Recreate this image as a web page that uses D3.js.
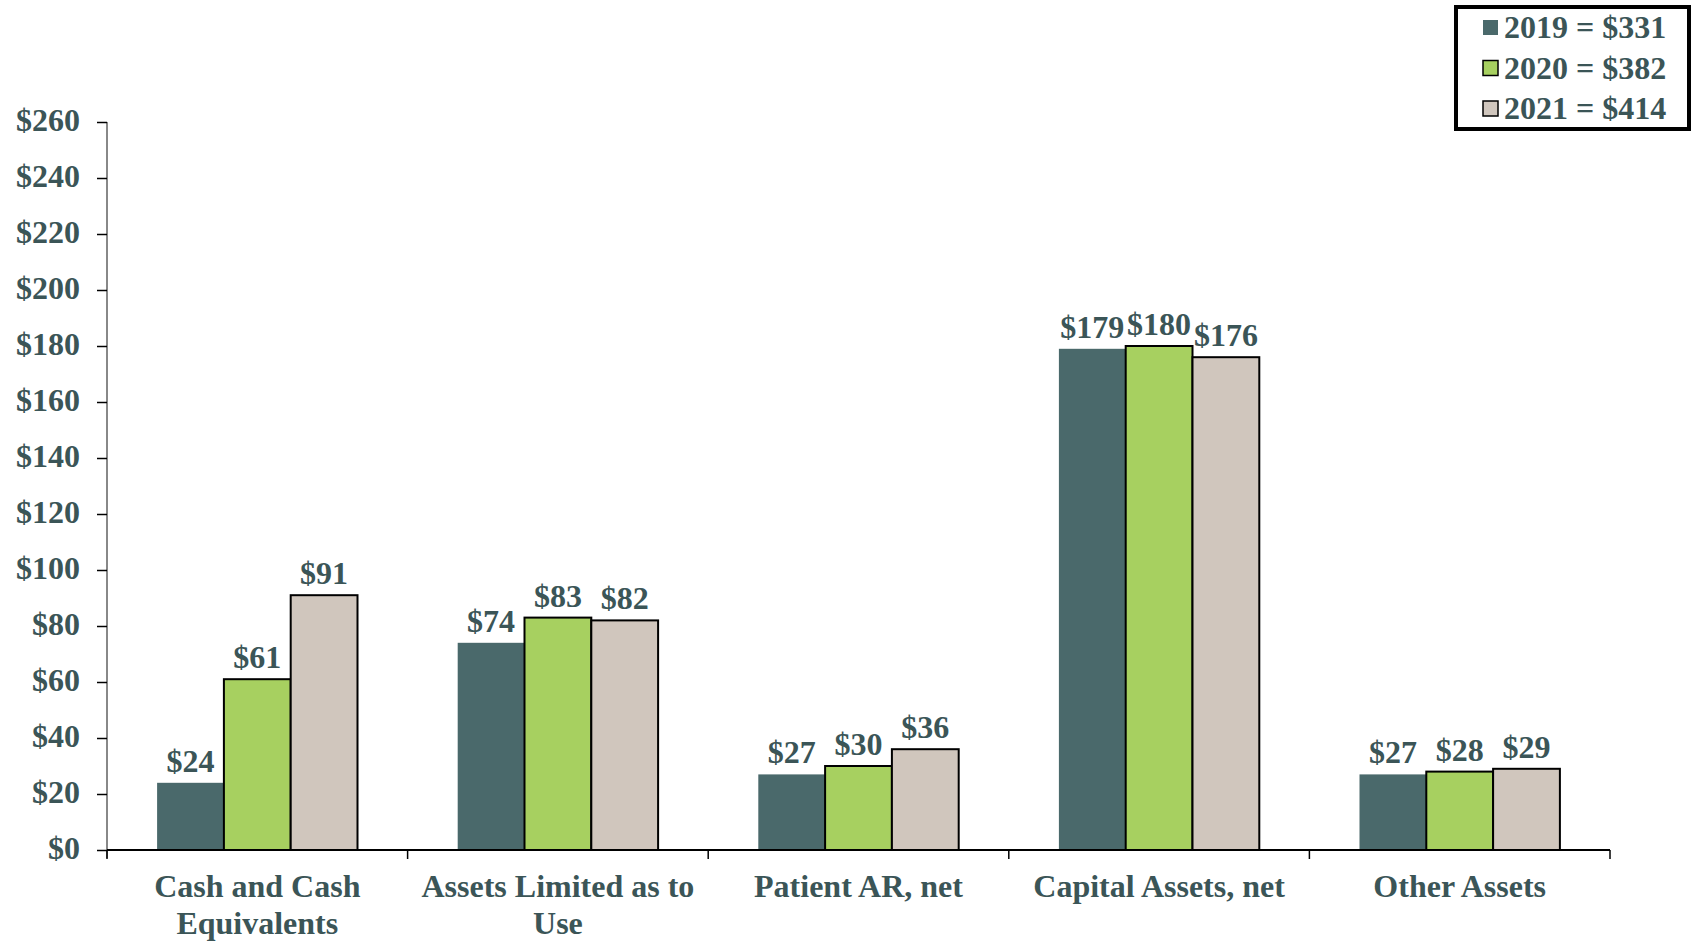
<!DOCTYPE html>
<html>
<head>
<meta charset="utf-8">
<script src="https://cdn.jsdelivr.net/npm/d3@7"></script>
<style>
  body { margin: 0; background: #fff; }
  text { font-family: "Liberation Serif", "Times New Roman", serif; font-weight: bold; }
</style>
</head>
<body>
<div id="chart"></div>
<script>
// Data
const categories = ["Cash and Cash Equivalents", "Assets Limited as to Use", "Patient AR, net", "Capital Assets, net", "Other Assets"];
const categoryLines = [["Cash and Cash", "Equivalents"], ["Assets Limited as to", "Use"], ["Patient AR, net"], ["Capital Assets, net"], ["Other Assets"]];
const years = ["2019", "2020", "2021"];
const totals = ["$331", "$382", "$414"];
const values2019 = [24, 74, 27, 179, 27];
const values2020 = [61, 83, 30, 180, 28];
const values2021 = [91, 82, 36, 176, 29];
const yTicks = [0, 20, 40, 60, 80, 100, 120, 140, 160, 180, 200, 220, 240, 260];

const series = [values2019, values2020, values2021];
const colors = ["#4a696b", "#a7d060", "#d0c6bd"];
const strokes = ["none", "#000", "#000"];
const textColor = "#3b5557";
const fontSize = "32px";

const W = 1697, H = 942;
const margin = { top: 122, right: 87, bottom: 92, left: 107 };
const width = W - margin.left - margin.right,
    height = H - margin.top - margin.bottom;

const svg = d3.select("#chart")
    .append("svg")
    .attr("width", W)
    .attr("height", H)
    .append("g")
    .attr("transform", "translate(" + margin.left + "," + margin.top + ")");

// Scales
const x0 = d3.scaleBand()
    .domain(categories)
    .range([0, width])
    .paddingInner(0)
    .paddingOuter(0);

const x1 = d3.scaleBand()
    .domain(years)
    .range([x0.bandwidth() / 6, x0.bandwidth() * 5 / 6]);

const y = d3.scaleLinear()
    .domain([0, 260])
    .range([height, 0]);

// Y axis
const yAxis = svg.append("g")
    .call(d3.axisLeft(y).tickValues(yTicks).tickFormat(d => "$" + d).tickSizeOuter(0).tickSize(10).tickPadding(17));
yAxis.select(".domain").attr("stroke", "#888").attr("stroke-width", 2)
    .attr("d", "M0," + (height + 8) + "V0");
yAxis.selectAll(".tick line").attr("stroke", "#000").attr("stroke-width", 1.5);
yAxis.selectAll(".tick text")
    .attr("fill", textColor)
    .attr("dy", "0.28em")
    .style("font-size", fontSize)
    .style("font-family", "'Liberation Serif', serif")
    .style("font-weight", "bold");

// Bars
const groups = svg.selectAll(".cat")
    .data(categories)
    .join("g")
    .attr("class", "cat")
    .attr("transform", d => "translate(" + x0(d) + ",0)");

years.forEach((yr, si) => {
    groups.append("rect")
        .attr("x", x1(yr))
        .attr("y", (d, i) => y(series[si][i]))
        .attr("width", x1.bandwidth())
        .attr("height", (d, i) => height - y(series[si][i]))
        .attr("fill", colors[si])
        .attr("stroke", strokes[si])
        .attr("stroke-width", 2);

    groups.append("text")
        .attr("x", x1(yr) + x1.bandwidth() / 2)
        .attr("y", (d, i) => y(series[si][i]) - 11)
        .attr("text-anchor", "middle")
        .attr("fill", textColor)
        .style("font-size", fontSize)
        .text((d, i) => "$" + series[si][i]);
});

// X axis
const xAxis = svg.append("g")
    .attr("transform", "translate(0," + height + ")");
xAxis.append("line")
    .attr("x1", 0).attr("x2", width)
    .attr("stroke", "#000").attr("stroke-width", 2);
xAxis.selectAll(".xtick")
    .data(categories.concat(["end"]))
    .join("line")
    .attr("class", "xtick")
    .attr("x1", (d, i) => i * x0.bandwidth())
    .attr("x2", (d, i) => i * x0.bandwidth())
    .attr("y1", 0).attr("y2", 9)
    .attr("stroke", "#000").attr("stroke-width", 1.5);

xAxis.selectAll(".xlabel")
    .data(categories)
    .join("text")
    .attr("class", "xlabel")
    .attr("x", d => x0(d) + x0.bandwidth() / 2)
    .attr("y", 47)
    .attr("text-anchor", "middle")
    .attr("fill", textColor)
    .style("font-size", fontSize)
    .each(function (d, i) {
        categoryLines[i].forEach((line, j) => {
            d3.select(this).append("tspan")
                .attr("x", x0(d) + x0.bandwidth() / 2)
                .attr("dy", j === 0 ? 0 : 37)
                .text(line);
        });
    });

// Legend
const legend = d3.select("svg").append("g")
    .attr("transform", "translate(1456,7)");
legend.append("rect")
    .attr("width", 233).attr("height", 122)
    .attr("fill", "#fff")
    .attr("stroke", "#000")
    .attr("stroke-width", 4);
years.forEach((yr, i) => {
    const row = legend.append("g").attr("transform", "translate(0," + (20 + i * 40.5) + ")");
    row.append("rect")
        .attr("x", 27).attr("y", -7)
        .attr("width", 15).attr("height", 15)
        .attr("fill", colors[i])
        .attr("stroke", strokes[i])
        .attr("stroke-width", 1.5);
    row.append("text")
        .attr("x", 48).attr("y", 11)
        .attr("fill", textColor)
        .style("font-size", fontSize)
        .text(yr + " = " + totals[i]);
});
</script>
</body>
</html>
